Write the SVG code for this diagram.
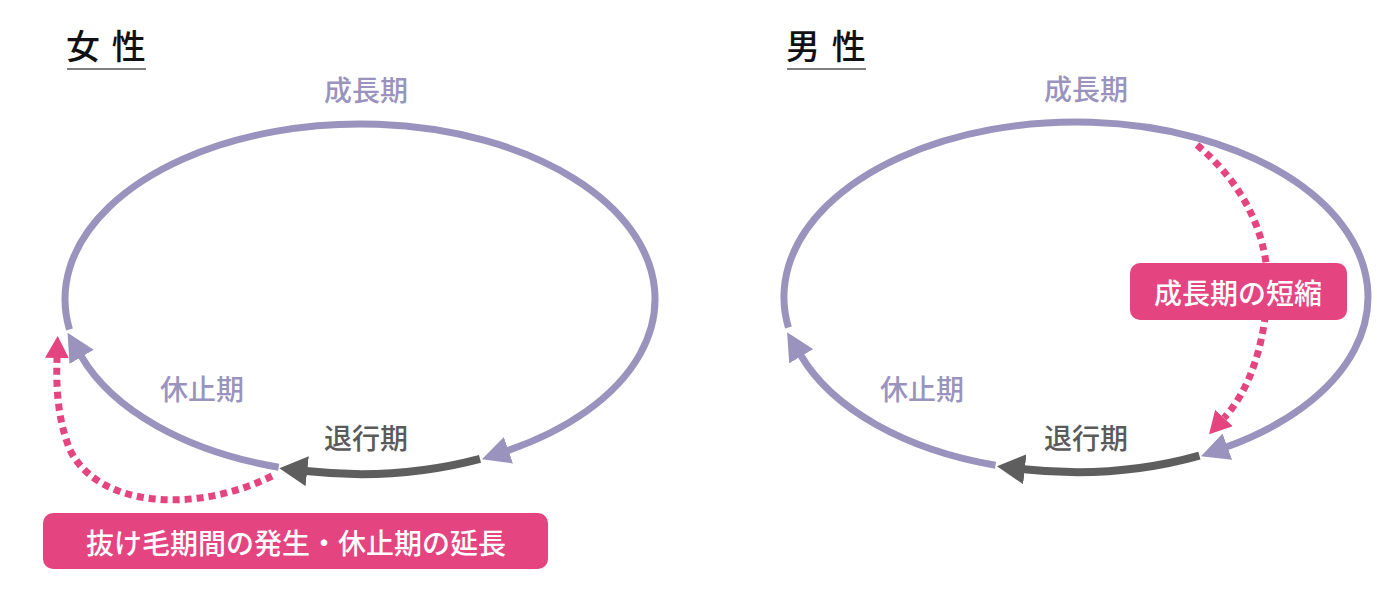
<svg xmlns="http://www.w3.org/2000/svg" width="1400" height="600" viewBox="0 0 1400 600">
<style>
.t{font-family:"Noto Sans CJK JP","Noto Sans CJK SC",sans-serif;dominant-baseline:central;text-anchor:middle}
.title{font-size:34px;font-weight:500;fill:#111;letter-spacing:2px;text-anchor:start}
.lbl{font-size:28px;font-weight:500;fill:#9a93bd}
.dk{fill:#5a5a5a}
.box{fill:#e4447f}
.btxt{font-size:28px;font-weight:500;fill:#fff}
.ul{stroke:#555;stroke-width:1.5}
.pu{fill:none;stroke:#9a93bd;stroke-width:7}
.gr{fill:none;stroke:#5e5e5e;stroke-width:8}
.pk{fill:none;stroke:#e4447f;stroke-width:7;stroke-dasharray:7 5}
</style>
<defs>
<marker id="ap" markerUnits="userSpaceOnUse" viewBox="0 0 28 28" markerWidth="28" markerHeight="28" refX="1" refY="14" orient="auto"><path d="M0,0 L28,14 L0,28 z" fill="#9a93bd"/></marker>
<marker id="ag" markerUnits="userSpaceOnUse" viewBox="0 0 28 30" markerWidth="28" markerHeight="30" refX="1" refY="15" orient="auto"><path d="M0,0 L28,15 L0,30 z" fill="#5e5e5e"/></marker>
<marker id="ak" markerUnits="userSpaceOnUse" viewBox="0 0 22 24" markerWidth="22" markerHeight="24" refX="0" refY="12" orient="auto"><path d="M0,0 L22,12 L0,24 z" fill="#e4447f"/></marker>
</defs>

<g id="connectors">
<path class="pu" d="M69.5,329.4 A295,175 0 1 1 507.5,450.6" marker-end="url(#ap)"/>
<path class="gr" d="M480,458.9 A295,175 0 0 1 306.2,471.1" marker-end="url(#ag)"/>
<path class="pu" d="M278.7,467.2 A295,175 0 0 1 81.1,356" marker-end="url(#ap)"/>
<path class="pk" d="M272,476 C200,512 100,510 70,450 C58,420 56,390 57,358" marker-end="url(#ak)"/>

<path class="pu" d="M788.4,327.4 A292,175 0 1 1 1226.4,447" marker-end="url(#ap)"/>
<path class="gr" d="M1199.4,455.6 A292,175 0 0 1 1023.8,469.2" marker-end="url(#ag)"/>
<path class="pu" d="M995.5,465.2 A292,175 0 0 1 800.8,355.4" marker-end="url(#ap)"/>
<path class="pk" d="M1197,145 C1245,185 1272,240 1267,300 C1263,350 1248,392 1224,418" marker-end="url(#ak)"/>
</g>

<g id="female-title">
<text class="t title" x="66" y="44">女 性</text>
<line class="ul" x1="67" y1="69" x2="146" y2="69"/>
</g>
<g id="female-growth"><text class="t lbl" x="366" y="89">成長期</text></g>
<g id="female-rest"><text class="t lbl" x="202" y="388">休止期</text></g>
<g id="female-regress"><text class="t lbl dk" x="366" y="437">退行期</text></g>
<g id="female-note">
<rect class="box" x="43" y="513" width="505" height="56" rx="10"/>
<text class="t btxt" x="296" y="542">抜け毛期間の発生・休止期の延長</text>
</g>

<g id="male-title">
<text class="t title" x="786" y="44">男 性</text>
<line class="ul" x1="787" y1="69" x2="866" y2="69"/>
</g>
<g id="male-growth"><text class="t lbl" x="1086" y="88">成長期</text></g>
<g id="male-rest"><text class="t lbl" x="922" y="388">休止期</text></g>
<g id="male-regress"><text class="t lbl dk" x="1086" y="437">退行期</text></g>
<g id="male-note">
<rect class="box" x="1130" y="263" width="217" height="57" rx="10"/>
<text class="t btxt" x="1238" y="292">成長期の短縮</text>
</g>
</svg>
